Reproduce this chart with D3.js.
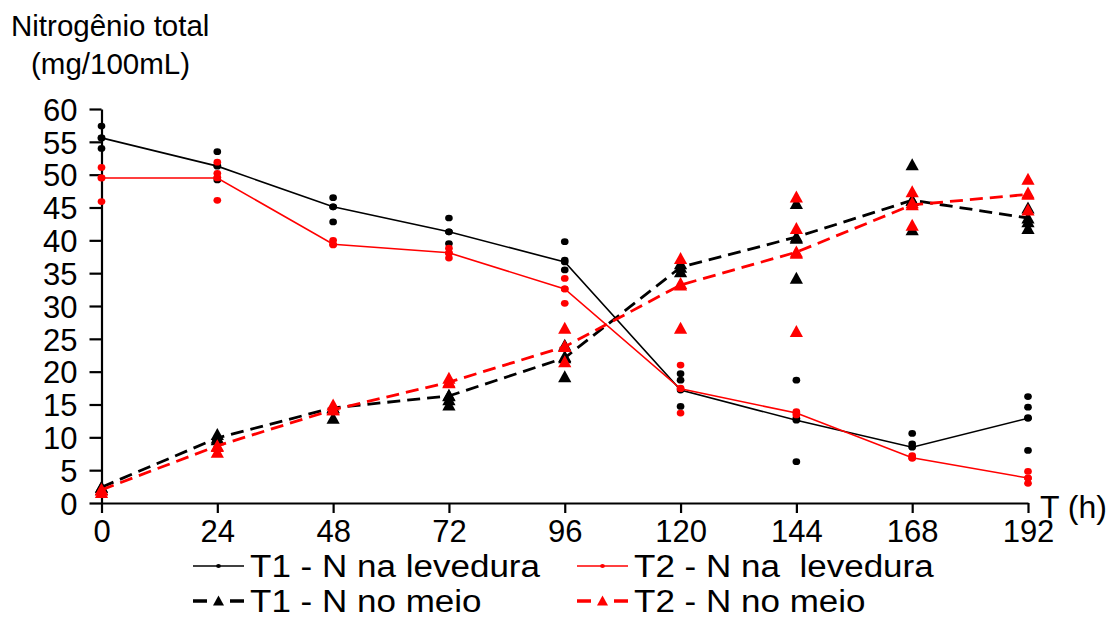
<!DOCTYPE html>
<html>
<head>
<meta charset="utf-8">
<script src="https://cdn.jsdelivr.net/npm/d3@7"></script>
<style>
  html, body { margin: 0; padding: 0; background: #fff; }
  svg text { font-family: "Liberation Sans", Arial, sans-serif; fill: #000; }
</style>
</head>
<body>
<svg id="chart" width="1110" height="619"></svg>
<script>
// Sampling times (h)
const times = [0, 24, 48, 72, 96, 120, 144, 168, 192];
const yTicks = [0, 5, 10, 15, 20, 25, 30, 35, 40, 45, 50, 55, 60];

// Mean total nitrogen (mg/100mL)
const t1YeastMean = [55.6, 51.3, 45.1, 41.3, 36.7, 17.2, 12.6, 8.5, 12.9];
const t2YeastMean = [49.5, 49.5, 39.4, 38.1, 32.6, 17.4, 13.7, 6.9, 3.8];
const t1MediumMean = [2.4, 9.9, 14.5, 16.3, 22.1, 35.9, 40.5, 46.1, 43.4];
const t2MediumMean = [2.0, 8.7, 14.2, 18.4, 23.8, 33.2, 38.2, 45.4, 47.0];

// Individual replicate measurements, one list per sampling time
const t1YeastReps = [
  [57.4, 55.6, 54.0], [53.5, 51.4, 49.2], [46.5, 45.1, 42.8], [43.4, 41.3, 39.5],
  [39.8, 37.0, 35.5], [19.7, 18.7, 14.7], [18.7, 12.9, 6.3], [10.6, 9.0],
  [16.2, 14.6, 13.0, 8.0]
];
const t2YeastReps = [
  [51.1, 49.5, 45.9], [51.9, 50.2, 49.6, 46.1], [40.0, 39.3], [38.8, 38.0, 37.3],
  [34.2, 32.6, 30.4], [21.0, 17.5, 13.7], [13.9, 13.4], [7.2, 6.8],
  [4.8, 3.8, 3.0]
];
const t1MediumReps = [
  [2.4, 2.0], [10.4, 9.6], [14.5, 12.9], [16.4, 15.7, 14.9],
  [24.0, 22.3, 19.2], [36.4, 35.2], [45.6, 40.3, 34.2], [51.5, 46.1, 41.6],
  [44.9, 42.8, 41.8]
];
const t2MediumReps = [
  [2.0, 1.6], [8.6, 7.7], [14.9, 14.2], [19.0, 18.3],
  [26.6, 23.8, 21.5], [37.2, 33.4, 26.6], [46.6, 41.8, 38.0, 26.1], [47.4, 45.7, 42.3],
  [49.3, 47.2, 44.6]
];

const seriesLabels = ["T1 - N na levedura", "T2 - N na  levedura", "T1 - N no meio", "T2 - N no meio"];

const series = [
  { label: seriesLabels[2], mean: t1MediumMean, reps: t1MediumReps, color: "#000", dashed: true, marker: "tri" },
  { label: seriesLabels[0], mean: t1YeastMean, reps: t1YeastReps, color: "#000", dashed: false, marker: "dot" },
  { label: seriesLabels[3], mean: t2MediumMean, reps: t2MediumReps, color: "#ff0000", dashed: true, marker: "tri" },
  { label: seriesLabels[1], mean: t2YeastMean, reps: t2YeastReps, color: "#ff0000", dashed: false, marker: "dot" }
];

const svg = d3.select("#chart");
const x = d3.scaleLinear().domain([0, 192]).range([101.5, 1028]);
const y = d3.scaleLinear().domain([0, 60]).range([503, 109]);

// Axes
const xAxis = d3.axisBottom(x).tickValues(times).tickSize(10).tickSizeOuter(0).tickFormat(d3.format("d"));
const yAxis = d3.axisLeft(y).tickValues(yTicks).tickSize(12).tickSizeOuter(0).tickFormat(d3.format("d"));

const gx = svg.append("g").attr("transform", `translate(0,${y(0)})`).call(xAxis);
gx.select(".domain").attr("stroke", "#000").attr("stroke-width", 2.2);
gx.selectAll(".tick line").attr("stroke", "#000").attr("stroke-width", 2.2);
gx.selectAll(".tick text").attr("font-size", 31).attr("dy", null).attr("y", 39)
  .attr("font-family", "Liberation Sans, Arial, sans-serif");

const gy = svg.append("g").attr("transform", `translate(${x(0)},0)`).call(yAxis);
gy.select(".domain").attr("stroke", "#000").attr("stroke-width", 2.2);
gy.selectAll(".tick line").attr("stroke", "#000").attr("stroke-width", 2.2);
gy.selectAll(".tick text").attr("font-size", 31).attr("x", -24).attr("dy", "0.36em")
  .attr("font-family", "Liberation Sans, Arial, sans-serif");

// Axis titles
svg.append("text").attr("x", 11).attr("y", 36).attr("font-size", 29.5).text("Nitrogênio total");
svg.append("text").attr("x", 31).attr("y", 74).attr("font-size", 29.5).text("(mg/100mL)");
svg.append("text").attr("x", 1040).attr("y", 518).attr("font-size", 32).style("white-space", "pre").text("T (h)");

// Marker drawing helpers
const triPath = (s) => `M0,${-s * 0.55}L${s * 0.55},${s * 0.45}L${-s * 0.55},${s * 0.45}Z`;
function drawMarker(g, kind, cx, cy, color, size) {
  if (kind === "dot") {
    g.append("ellipse").attr("cx", cx).attr("cy", cy).attr("rx", size * 0.48).attr("ry", size * 0.42).attr("fill", color);
  } else {
    g.append("path").attr("d", triPath(size)).attr("transform", `translate(${cx},${cy})`).attr("fill", color);
  }
}

const plot = svg.append("g");
const line = d3.line().x((d, i) => x(times[i])).y(d => y(d));

series.forEach(s => {
  const g = plot.append("g");
  g.append("path")
    .attr("d", line(s.mean))
    .attr("fill", "none")
    .attr("stroke", s.color)
    .attr("stroke-width", s.dashed ? 2.8 : 1.6)
    .attr("stroke-dasharray", s.dashed ? "13,7" : null);
  s.reps.forEach((vals, i) => {
    vals.forEach(v => drawMarker(g, s.marker, x(times[i]), y(v), s.color, s.marker === "dot" ? 8 : 12));
  });
  s.mean.forEach((v, i) => drawMarker(g, s.marker, x(times[i]), y(v), s.color, s.marker === "dot" ? 8 : 12));
});

// Legend (labels are drawn slightly widened, in a wide-set sans face)
const legendItems = [
  { s: series[1], lx: 193, ly: 566 },
  { s: series[3], lx: 577, ly: 566 },
  { s: series[0], lx: 193, ly: 601 },
  { s: series[2], lx: 577, ly: 601 }
];
const legend = svg.append("g");
legendItems.forEach(({ s, lx, ly }) => {
  const g = legend.append("g");
  g.append("line").attr("x1", lx).attr("x2", lx + 51).attr("y1", ly).attr("y2", ly)
    .attr("stroke", s.color).attr("stroke-width", s.dashed ? 3.4 : 1.6)
    .attr("stroke-dasharray", s.dashed ? "14,23,14" : null);
  drawMarker(g, s.marker, lx + 25.5, ly, s.color, s.marker === "dot" ? 5 : 10);
  g.append("text")
    .attr("transform", `translate(${lx + 57},${ly + 11}) scale(1.13,1)`)
    .attr("font-size", 31)
    .style("white-space", "pre").text(s.label);
});
</script>
</body>
</html>
